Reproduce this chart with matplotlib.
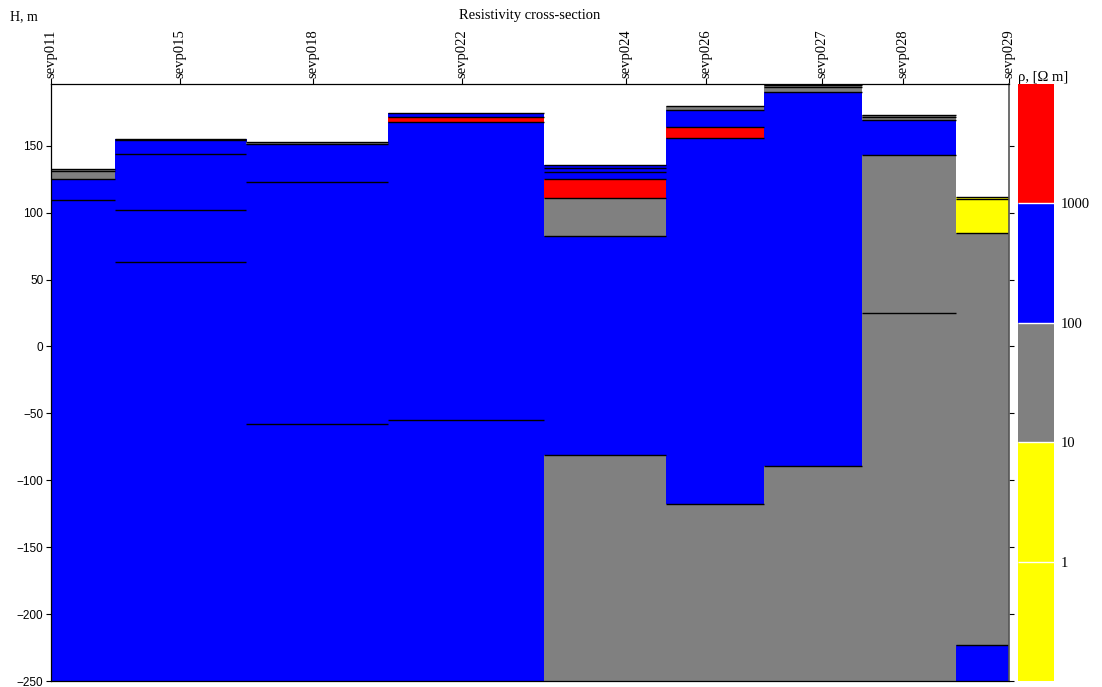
import matplotlib
matplotlib.use("Agg")
import matplotlib.pyplot as plt
from matplotlib.colors import ListedColormap, BoundaryNorm
from matplotlib.cm import ScalarMappable

# Sounding stations and their distance along the profile (km)
stations = ["sevp011", "sevp015", "sevp018", "sevp022", "sevp024",
            "sevp026", "sevp027", "sevp028", "sevp029"]
dist_km = [0.00, 1.29, 2.62, 4.11, 5.75, 6.55, 7.71, 8.52, 9.58]

# Layer tops (elevation, m) and resistivities (Ohm*m) for each sounding
tops_sevp011 = [132.4, 131.0, 125.2, 109.6]
rho_sevp011 = [40, 40, 450, 300]
tops_sevp015 = [155.2, 153.9, 143.8, 101.9, 63.3]
rho_sevp015 = [300, 400, 600, 350, 800]
tops_sevp018 = [152.6, 151.1, 122.9, -57.9]
rho_sevp018 = [50, 300, 500, 700]
tops_sevp022 = [174.4, 171.4, 167.4, -55.0]
rho_sevp022 = [300, 2000, 500, 800]
tops_sevp024 = [135.8, 133.6, 130.6, 125.1, 110.6, 82.5, -81.0]
rho_sevp024 = [300, 200, 400, 3000, 50, 600, 30]
tops_sevp026 = [179.9, 176.6, 163.7, 155.8, -117.7]
rho_sevp026 = [50, 300, 2500, 500, 40]
tops_sevp027 = [196.1, 195.0, 193.6, 190.4, -89.3]
rho_sevp027 = [50, 50, 50, 400, 40]
tops_sevp028 = [173.2, 171.8, 169.4, 142.7, 25.1]
rho_sevp028 = [50, 50, 400, 40, 30]
tops_sevp029 = [111.6, 110.2, 84.7, -223.0]
rho_sevp029 = [5, 5, 40, 300]

layer_tops = [tops_sevp011, tops_sevp015, tops_sevp018, tops_sevp022, tops_sevp024,
              tops_sevp026, tops_sevp027, tops_sevp028, tops_sevp029]
layer_rho = [rho_sevp011, rho_sevp015, rho_sevp018, rho_sevp022, rho_sevp024,
             rho_sevp026, rho_sevp027, rho_sevp028, rho_sevp029]

rho_bounds = [0.1, 1, 10, 100, 1000, 10000]
rho_colors = ["#ffff00", "#ffff00", "#808080", "#0000ff", "#ff0000"]
cbar_ticks = [1, 10, 100, 1000]
y_ticks = [-250, -200, -150, -100, -50, 0, 50, 100, 150]
y_bottom = -250

cmap = ListedColormap(rho_colors)
norm = BoundaryNorm(rho_bounds, cmap.N)

serif = "Liberation Serif"
sans = "Liberation Sans"

W, H = 1102, 687
fig = plt.figure(figsize=(W / 100, H / 100), dpi=100)
ax = fig.add_axes([51 / W, 1 - 681 / H, (1009 - 51) / W, (681 - 84) / H])

# Column edges: halfway between neighbouring stations
edges = [dist_km[0]]
for a, b in zip(dist_km[:-1], dist_km[1:]):
    edges.append((a + b) / 2)
edges.append(dist_km[-1])

y_top = max(t[0] for t in layer_tops)

for i in range(len(stations)):
    x0, x1 = edges[i], edges[i + 1]
    tops = layer_tops[i]
    rhos = layer_rho[i]
    bottoms = tops[1:] + [y_bottom - 50]
    for top, bot, r in zip(tops, bottoms, rhos):
        ax.bar(x0, top - bot, width=x1 - x0, bottom=bot, align="edge",
               color=cmap(norm(r)), linewidth=0, zorder=1)
    ax.hlines(tops, x0, x1, colors="black", linewidth=1.0, zorder=2)

ax.set_xlim(dist_km[0], dist_km[-1])
ax.set_ylim(y_bottom, y_top)
ax.set_yticks(y_ticks)
ax.set_yticklabels([("\u2212" + str(abs(v))) if v < 0 else str(v) for v in y_ticks],
                   fontfamily=sans, fontsize=8.5)
ax.tick_params(axis="y", which="both", left=True, right=True, direction="out",
               length=3.5, width=0.8, pad=2, labelright=False)

ax.xaxis.set_ticks_position("top")
ax.set_xticks(dist_km)
ax.set_xticklabels(stations, rotation=90, fontfamily=serif, fontsize=10.5)
ax.tick_params(axis="x", which="both", top=True, bottom=False, direction="out",
               length=4, width=0.8, pad=0.5, labelbottom=False, labeltop=True)

for side in ["left", "top", "bottom"]:
    ax.spines[side].set_color("black")
    ax.spines[side].set_linewidth(0.9)
ax.spines["right"].set_color("#555555")
ax.spines["right"].set_linewidth(1.2)

# Resistivity colour scale
cax = fig.add_axes([1018 / W, 1 - 681 / H, 36 / W, (681 - 84) / H])
sm = ScalarMappable(norm=norm, cmap=cmap)
cbar = fig.colorbar(sm, cax=cax, ticks=cbar_ticks, drawedges=True)
cbar.outline.set_visible(False)
cbar.dividers.set_color("white")
cbar.dividers.set_linewidth(1.0)
cbar.ax.minorticks_off()
cbar.ax.set_yticklabels([str(t) for t in cbar_ticks], fontfamily=serif, fontsize=10.5)
cbar.ax.tick_params(which="both", length=0, pad=4.5)

fig.text(530 / W, 1 - 15 / H, "Resistivity cross-section", ha="center", va="center",
         fontfamily=serif, fontsize=10.5)
fig.text(10 / W, 1 - 17 / H, "H, m", ha="left", va="center",
         fontfamily=serif, fontsize=10)
fig.text(1018 / W, 1 - 81 / H, "\u03c1, [\u03a9 m]", ha="left", va="baseline",
         fontfamily=serif, fontsize=10.5)

fig.savefig("out.png", dpi=100)
